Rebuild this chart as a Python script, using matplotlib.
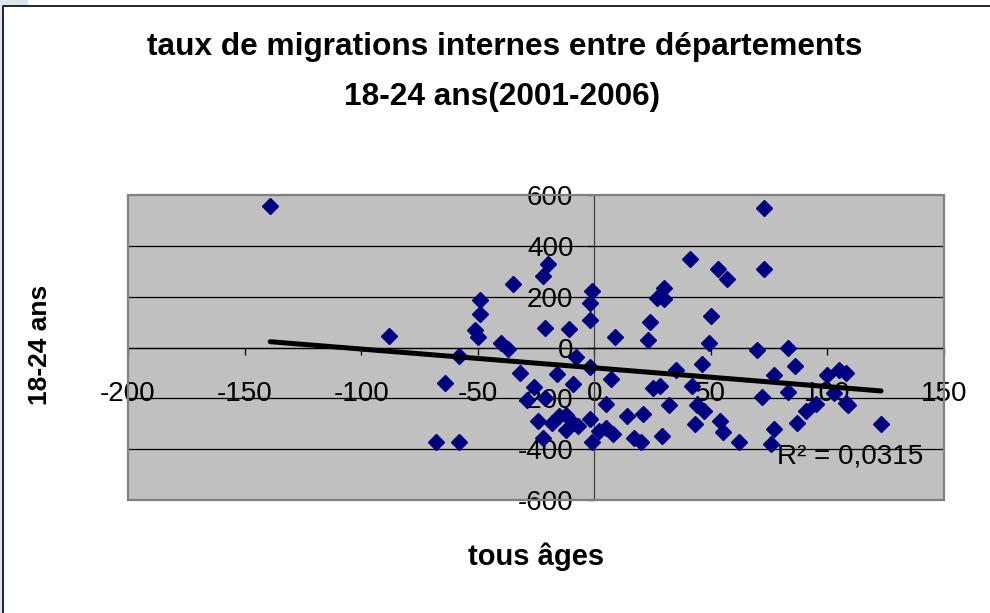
import matplotlib
matplotlib.use('Agg')
import matplotlib.pyplot as plt
from matplotlib.patches import Rectangle
import numpy as np

plt.rcParams['font.family'] = ['Liberation Sans', 'DejaVu Sans']
plt.rcParams['axes.unicode_minus'] = False

# taux de migration, tous ages (x) vs 18-24 ans (y)
tous_ages = [-139, -88, -68, -58, -64, -58, -49, -49, -51, -50,
             -40, -37, -35, -32, -29, -26, -24, -22, -22, -20,
             -21, -21, -18, -15, -12, -9, -7, -12, -16,
             -11, -8, -9, -2, -1, -2, -2, -2, -1, 5,
             2, 5, 8, 7, 9, 14, 21, 17, 20, 23,
             24, 27, 30, 30, 25, 28, 32, 29, 35, 41,
             42, 44, 43, 46, 47, 53, 57, 73, 73, 50,
             49, 70, 77, 72, 54, 55, 62, 77, 76, 83,
             86, 83, 100, 105, 108, 103, 95, 91, 87, 108,
             109, 123]
ages_18_24 = [556, 44, -371, -371, -140, -32, 187, 132, 67, 40,
              16, -6, 250, -100, -205, -155, -291, -355, 282, 327,
              78, -198, -296, -268, -266, -296, -307, -323, -104,
              74, -38, -142, -75, 223, 174, 109, -280, -373, -222,
              -328, -315, -340, -124, 40, -270, -263, -358, -373, 31,
              100, 194, 236, 190, -159, -153, -228, -347, -88, 350,
              -153, -228, -300, -64, -250, 307, 268, 307, 548, 122,
              16, -10, -108, -195, -289, -334, -371, -322, -380, 0,
              -73, -176, -108, -88, -218, -179, -224, -250, -296, -101,
              -228, -302]

xticks = list(range(-200, 151, 50))
yticks = list(range(-600, 601, 200))

x = np.array(tous_ages, dtype=float)
y = np.array(ages_18_24, dtype=float)

fig = plt.figure(figsize=(9.9, 6.13), dpi=100)
fig.patch.set_facecolor('white')

# cadre du graphique
fig.patches.append(Rectangle((0, 0), 3 / 990, 1, transform=fig.transFigure,
                             facecolor='#dce6f2', edgecolor='none'))
fig.patches.append(Rectangle((0, 1 - 6 / 613), 28 / 990, 6 / 613, transform=fig.transFigure,
                             facecolor='#dce6f2', edgecolor='none'))
fig.lines.append(plt.Line2D([3 / 990, 3 / 990, 1], [0, 1 - 6 / 613, 1 - 6 / 613],
                            transform=fig.transFigure, color='black', lw=1.2))

ax = fig.add_axes([128 / 990, 1 - 500 / 613, 816 / 990, 305 / 613])
ax.set_facecolor('#c0c0c0')
ax.set_xlim(-200, 150)
ax.set_ylim(-600, 600)

# quadrillage horizontal
for v in yticks[1:-1]:
    ax.axhline(v, color='black', lw=0.9, zorder=1)

# axes qui se croisent en 0
ax.spines['left'].set_position(('data', 0))
ax.spines['bottom'].set_position(('data', 0))
ax.spines['top'].set_visible(False)
ax.spines['right'].set_visible(False)
ax.spines['left'].set_color('#404040')
ax.spines['bottom'].set_color('black')
ax.spines['left'].set_linewidth(0.9)
ax.spines['bottom'].set_linewidth(0.9)
ax.add_patch(Rectangle((0, 0), 1, 1, transform=ax.transAxes, fill=False,
                       edgecolor='#808080', lw=1.6, zorder=5, clip_on=False))

ax.set_xticks(xticks)
ax.set_yticks(yticks)
ax.tick_params(axis='x', direction='out', length=5, width=0.9, pad=19, labelsize=20)
ax.tick_params(axis='y', direction='out', length=5, width=0.9, pad=10, labelsize=20)

ax.plot(x, y, linestyle='none', marker='D', markersize=8.5,
        color='#000080', markeredgecolor='#000080', zorder=3)

# courbe de tendance linéaire
a, b = np.polyfit(x, y, 1)
xs = np.array([x.min(), x.max()])
ax.plot(xs, a * xs + b, color='black', lw=3.6, zorder=4, solid_capstyle='round')

ax.text(0.795, 0.141, 'R² = 0,0315', transform=ax.transAxes, fontsize=20,
        va='center', ha='left', zorder=6)

fig.text(505 / 990, 1 - 47 / 613, 'taux de migrations internes entre départements',
         ha='center', va='center', fontsize=22.8, fontweight='bold')
fig.text(502 / 990, 1 - 97 / 613, '18-24 ans(2001-2006)',
         ha='center', va='center', fontsize=22.8, fontweight='bold')
fig.text(536 / 990, 1 - 557 / 613, 'tous âges', ha='center', va='center',
         fontsize=21, fontweight='bold')
fig.text(40 / 990, 1 - 345 / 613, '18-24 ans', ha='center', va='center',
         fontsize=19, fontweight='bold', rotation=90)

fig.savefig('out.png', dpi=100)
